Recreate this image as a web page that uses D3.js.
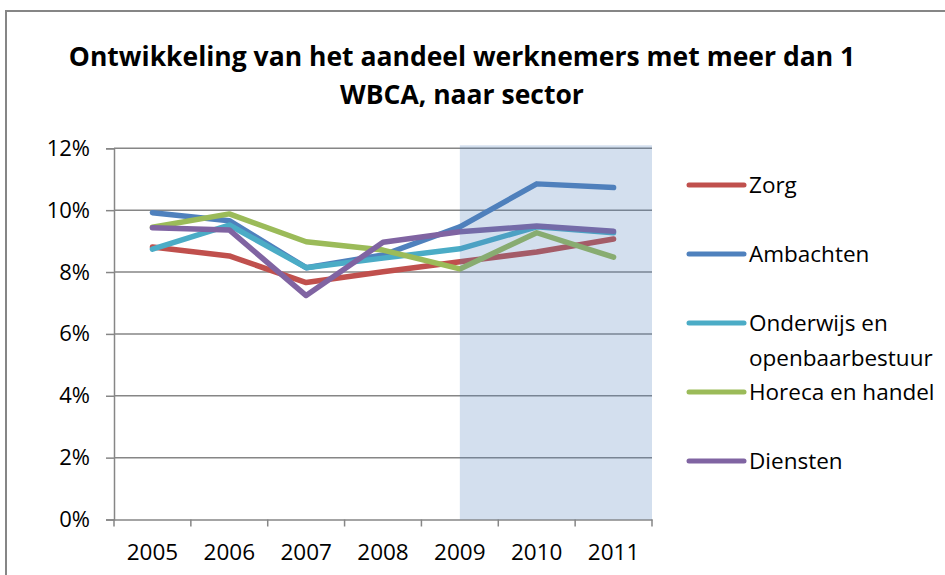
<!DOCTYPE html>
<html>
<head>
<meta charset="utf-8">
<script src="https://cdn.jsdelivr.net/npm/d3@7"></script>
<style>
  body { margin: 0; background: #fff; }
  text { font-family: "Open Sans", sans-serif; fill: #000; }
</style>
</head>
<body>
<div id="chart-area"></div>
<script>
// data (percent)
var years = ["2005", "2006", "2007", "2008", "2009", "2010", "2011"];
var zorg = [8.81, 8.52, 7.66, 8.01, 8.33, 8.65, 9.07];
var ambachten = [9.92, 9.66, 8.14, 8.55, 9.46, 10.85, 10.73];
var onderwijs = [8.74, 9.52, 8.14, 8.45, 8.75, 9.46, 9.27];
var horeca = [9.45, 9.88, 8.98, 8.71, 8.10, 9.27, 8.48];
var diensten = [9.43, 9.36, 7.24, 8.96, 9.30, 9.49, 9.32];
var yTicks = [0, 2, 4, 6, 8, 10, 12];
var shadeFrom = "2009";

var series = [
  { name: ["Zorg"], values: zorg, color: "#C0504D" },
  { name: ["Ambachten"], values: ambachten, color: "#4F81BD" },
  { name: ["Onderwijs en", "openbaarbestuur"], values: onderwijs, color: "#4BACC6" },
  { name: ["Horeca en handel"], values: horeca, color: "#9BBB59" },
  { name: ["Diensten"], values: diensten, color: "#8064A2" }
];

var W = 945, H = 575;
var margin = { left: 114, right: 293, top: 148.3, bottom: 55.5 };
var width = W - margin.left - margin.right,
    height = H - margin.top - margin.bottom;

var svg = d3.select("#chart-area")
    .append("svg")
    .attr("width", W)
    .attr("height", H);

// outer chart border
svg.append("rect")
    .attr("x", 6).attr("y", 11)
    .attr("width", W + 10).attr("height", H + 10)
    .attr("fill", "#fff")
    .attr("stroke", "#868686")
    .attr("stroke-width", 2);

// title
var title = svg.append("text")
    .attr("text-anchor", "middle")
    .attr("font-size", "26.5px")
    .attr("font-weight", "bold");
title.append("tspan").attr("x", 462).attr("y", 66)
    .text("Ontwikkeling van het aandeel werknemers met meer dan 1");
title.append("tspan").attr("x", 462).attr("y", 104)
    .text("WBCA, naar sector");

var g = svg.append("g")
    .attr("transform", "translate(" + margin.left + "," + margin.top + ")");

var x = d3.scaleBand().domain(years).range([0, width]);
var y = d3.scaleLinear().domain([0, 12]).range([height, 0]);

// gridlines
g.selectAll(".grid")
    .data(yTicks.filter(function(d){ return d > 0; }))
    .enter().append("line")
    .attr("x1", 0).attr("x2", width)
    .attr("y1", function(d){ return y(d); })
    .attr("y2", function(d){ return y(d); })
    .attr("stroke", "#868686")
    .attr("stroke-width", 1.5);

// y axis
var yAxis = g.append("g")
    .call(d3.axisLeft(y).tickValues(yTicks).tickSize(8).tickPadding(16)
        .tickFormat(function(d){ return d + "%"; }));
yAxis.selectAll("text").attr("font-size", "22px").style("font-family", "Open Sans");
yAxis.selectAll("line, path").attr("stroke", "#868686").attr("stroke-width", 1.5);

// x axis
var xAxis = g.append("g")
    .attr("transform", "translate(0," + height + ")")
    .call(d3.axisBottom(x).tickSize(0).tickPadding(25));
xAxis.selectAll("text").attr("font-size", "22.5px").style("font-family", "Open Sans");
xAxis.select("path").attr("stroke", "#868686").attr("stroke-width", 1.5);
xAxis.selectAll(".tick line").remove();
// tick marks at category boundaries
xAxis.selectAll(".bound")
    .data(years.concat(["end"]))
    .enter().append("line")
    .attr("x1", function(d, i){ return i * x.step(); })
    .attr("x2", function(d, i){ return i * x.step(); })
    .attr("y1", 0).attr("y2", 7)
    .attr("stroke", "#868686")
    .attr("stroke-width", 1.5);

// lines
var line = d3.line()
    .x(function(d, i){ return x(years[i]) + x.bandwidth() / 2; })
    .y(function(d){ return y(d); });

g.selectAll(".line")
    .data(series)
    .enter().append("path")
    .attr("class", "line")
    .attr("d", function(d){ return line(d.values); })
    .attr("fill", "none")
    .attr("stroke", function(d){ return d.color; })
    .attr("stroke-width", 5.5)
    .attr("stroke-linejoin", "round")
    .attr("stroke-linecap", "round");

// shaded period, drawn on top as a translucent overlay
var sx = x(shadeFrom) + x.bandwidth() / 2;
g.append("rect")
    .attr("x", sx)
    .attr("y", y(12) - 3)
    .attr("width", width - sx)
    .attr("height", height - y(12) + 3)
    .attr("fill", "#4F81BD")
    .attr("opacity", 0.25);

// legend
var legend = svg.append("g").attr("transform", "translate(689,185)");
var item = legend.selectAll(".item")
    .data(series)
    .enter().append("g")
    .attr("transform", function(d, i){ return "translate(0," + (i * 69) + ")"; });
item.append("line")
    .attr("x1", 0).attr("x2", 55)
    .attr("stroke", function(d){ return d.color; })
    .attr("stroke-width", 5)
    .attr("stroke-linecap", "round");
item.append("text")
    .attr("font-size", "22.5px")
    .selectAll("tspan")
    .data(function(d){ return d.name; })
    .enter().append("tspan")
    .attr("x", 60)
    .attr("y", function(d, i){ return i * 35 + 8; })
    .text(function(d){ return d; });
</script>
</body>
</html>
